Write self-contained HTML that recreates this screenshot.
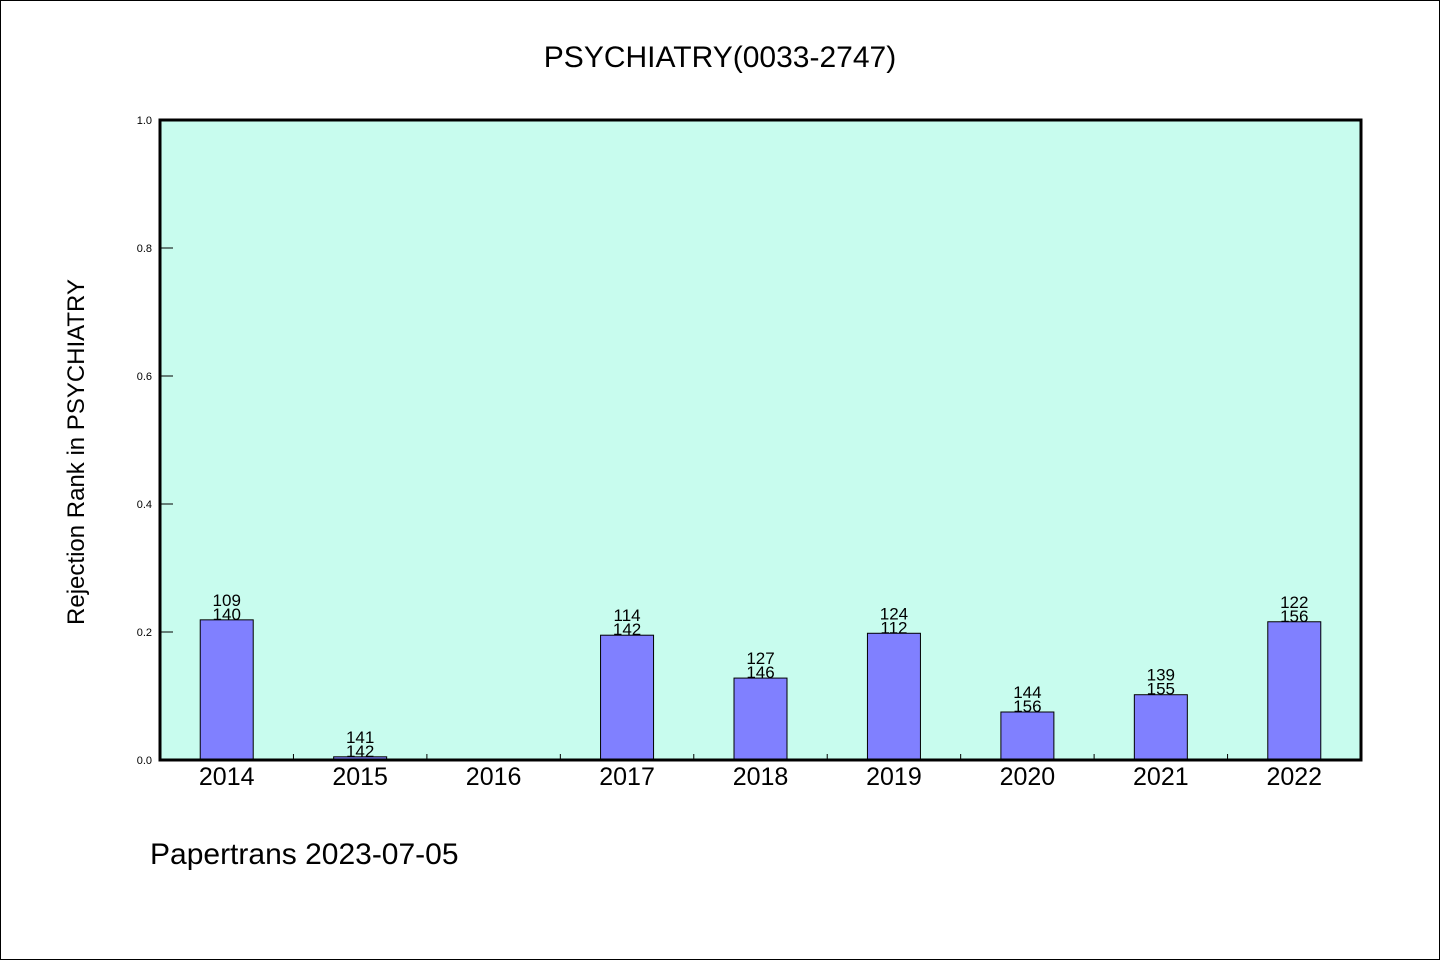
<!DOCTYPE html>
<html><head><meta charset="utf-8"><style>
html,body{margin:0;padding:0;background:#fff;}
svg{display:block;font-family:"WenQuanYi Zen Hei","Liberation Sans",sans-serif;}
</style></head><body>
<svg id="chart" width="1440" height="960" viewBox="0 0 1440 960">
<rect x="0.5" y="0.5" width="1439" height="959" fill="#fff" stroke="#000"/>
<text x="720" y="67" font-size="30" text-anchor="middle">PSYCHIATRY(0033-2747)</text>
<rect x="160" y="120" width="1201" height="640" fill="#c8fcee"/>
<g id="bars"></g>
<g id="axes"></g>
<rect x="160" y="120" width="1201" height="640" fill="none" stroke="#000" stroke-width="3"/>
<text transform="translate(84,452) rotate(-90)" font-size="24" text-anchor="middle">Rejection Rank in PSYCHIATRY</text>
<text x="150" y="864" font-size="30">Papertrans 2023-07-05</text>
</svg>
<script>
const categories=["2014","2015","2016","2017","2018","2019","2020","2021","2022"];
const values=[0.219,0.005,0,0.195,0.128,0.198,0.075,0.102,0.216];
const labelTop=["109","141","","114","127","124","144","139","122"];
const labelBottom=["140","142","","142","146","112","156","155","156"];
const yTicks=[0,0.2,0.4,0.6,0.8,1.0];
const yTickLabels=["0.0","0.2","0.4","0.6","0.8","1.0"];
const NS="http://www.w3.org/2000/svg";
const X0=160,X1=1361,Y0=760,Y1=120;
const band=(X1-X0)/categories.length;
const xC=i=>X0+band*(i+0.5);
const y=v=>Y0-(Y0-Y1)*v;
function mk(t,a,p){const e=document.createElementNS(NS,t);for(const k in a)e.setAttribute(k,a[k]);p.appendChild(e);return e;}
const bars=document.getElementById('bars'),axes=document.getElementById('axes');
categories.forEach((c,i)=>{
  if(values[i]>0){
    const r=mk('rect',{x:xC(i)-26.5,y:y(values[i]),width:53,height:Y0-y(values[i]),fill:'#8080ff',stroke:'#000','stroke-width':1},bars);
    
    
  }
  if(labelTop[i]){
    const t1=mk('text',{x:xC(i),y:y(values[i])-28+14,'font-size':17,'text-anchor':'middle'},bars);t1.textContent=labelTop[i];
    
    
    const t2=mk('text',{x:xC(i),y:y(values[i])-14+14,'font-size':17,'text-anchor':'middle'},bars);t2.textContent=labelBottom[i];
    
    
  }
  const xl=mk('text',{x:xC(i),y:785,'font-size':25,'text-anchor':'middle'},axes);xl.textContent=c;
  
  
  if(i>0){const tk=mk('line',{x1:X0+band*i,x2:X0+band*i,y1:Y0,y2:Y0-6,stroke:'#000'},axes);
  
  }
});
yTicks.forEach((v,i)=>{
  const tk=mk('line',{x1:X0,x2:X0+13,y1:y(v),y2:y(v),stroke:'#000'},axes);
  
  
  const tl=mk('text',{x:X0-8,y:y(v)+4,'font-size':11,'text-anchor':'end'},axes);tl.textContent=yTickLabels[i];
  
  
});
</script>
</body></html>
